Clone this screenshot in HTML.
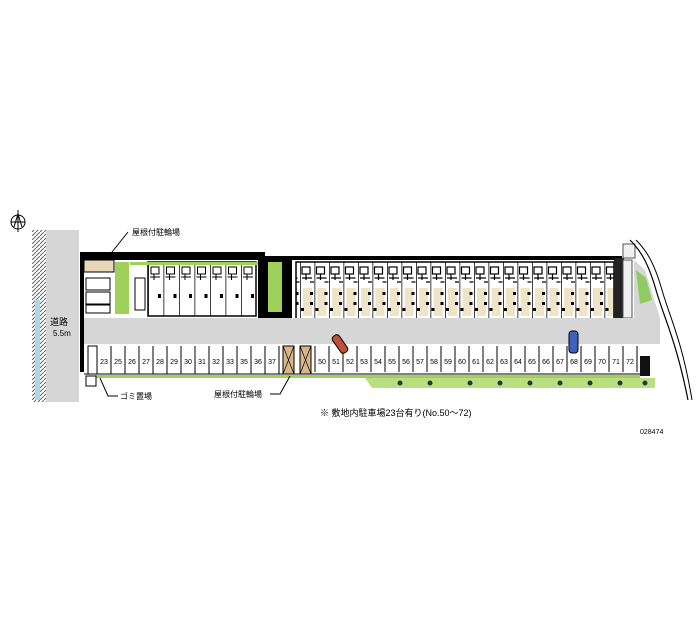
<!DOCTYPE html>
<html><head><meta charset="utf-8"><style>
html,body{margin:0;padding:0;background:#fff;width:700px;height:636px;overflow:hidden}
text{font-family:"Liberation Sans","Noto Sans CJK JP",sans-serif}
</style></head><body>
<svg width="700" height="636" viewBox="0 0 700 636" xmlns="http://www.w3.org/2000/svg">
<defs>
<pattern id="units" x="300" y="262" width="14.5" height="58" patternUnits="userSpaceOnUse">
<rect x="0" y="0" width="14.5" height="58" fill="#fff"/>
<rect x="3" y="26" width="9" height="28" fill="#efe3c8"/>
<line x1="0" y1="0" x2="0" y2="58" stroke="#000" stroke-width="1.5"/>
<rect x="2" y="5" width="8" height="7" fill="none" stroke="#000" stroke-width="1.2"/>
<path d="M2 16h10M6 12v6M10 20h4" stroke="#000" stroke-width="1.2"/>
<rect x="10" y="30" width="3" height="3" fill="#000"/>
<rect x="10" y="40" width="3" height="3" fill="#000"/>
<rect x="1" y="46" width="3" height="3" fill="#000"/>
</pattern>
<pattern id="units2" x="148" y="262" width="15.5" height="54" patternUnits="userSpaceOnUse">
<rect width="15.5" height="54" fill="#fff"/>
<line x1="0" y1="0" x2="0" y2="54" stroke="#000" stroke-width="1.5"/>
<rect x="3" y="5" width="8" height="7" fill="none" stroke="#000"/>
<path d="M2 15h10M6 12v6" stroke="#000"/>
<rect x="10" y="32" width="3" height="4" fill="#000"/>
</pattern>
<pattern id="hatch" width="4" height="4" patternUnits="userSpaceOnUse">
<rect width="4" height="4" fill="#fff"/><path d="M0 4L4 0" stroke="#666" stroke-width="1"/>
</pattern>
</defs>
<!-- north arrow -->
<circle cx="18" cy="222" r="7" fill="none" stroke="#000"/>
<path d="M18 210V232M11 222H25M14 227L18 214L22 227" stroke="#000" fill="none"/>
<!-- road / river -->
<rect x="32" y="230" width="10" height="172" fill="url(#hatch)"/>
<rect x="35" y="300" width="5" height="100" fill="#a8d8ea"/>
<rect x="42" y="230" width="4" height="172" fill="url(#hatch)"/>
<rect x="46" y="230" width="33" height="172" fill="#d6d6d6"/>
<text x="50" y="325" font-size="9">道路</text>
<text x="53" y="336" font-size="8">5.5m</text>
<!-- site -->
<rect x="80" y="252" width="185" height="8" fill="#000"/>
<rect x="80" y="252" width="4" height="120" fill="#000"/>
<rect x="84" y="260" width="30" height="12" fill="#e8d8b8" stroke="#000"/>
<rect x="86" y="278" width="24" height="12" fill="#fff" stroke="#000"/>
<rect x="86" y="292" width="24" height="12" fill="#fff" stroke="#000"/>
<rect x="86" y="305" width="24" height="8" fill="#fff" stroke="#000"/>
<rect x="115" y="262" width="14" height="52" fill="#9ed05a"/>
<rect x="135" y="278" width="10" height="32" fill="#fff" stroke="#000"/>
<rect x="148" y="262" width="108" height="54" fill="url(#units2)" stroke="#000" stroke-width="1.5"/>
<rect x="130" y="262" width="130" height="3" fill="#9ed05a"/>
<rect x="258" y="256" width="34" height="62" fill="#000"/>
<rect x="268" y="262" width="14" height="50" fill="#9ed05a"/>
<rect x="292" y="256" width="330" height="4" fill="#000"/>
<rect x="296" y="262" width="318" height="58" fill="url(#units)" stroke="#000" stroke-width="1.5"/>
<rect x="614" y="258" width="10" height="60" fill="#222"/>
<rect x="623" y="260" width="9" height="58" fill="#f0f0f0" stroke="#555"/>
<rect x="623" y="244" width="12" height="14" fill="#f0f0f0" stroke="#555"/>
<!-- drive -->
<rect x="84" y="318" width="574" height="26" fill="#d6d6d6"/>
<polygon points="634,260 645,270 660,318 660,344 634,344" fill="#d6d6d6"/>
<polygon points="636,270 646,278 652,300 640,304" fill="#8fcb60"/>
<path d="M630 240 C 640 250 648 262 656 290 S 676 340 688 400" fill="none" stroke="#000" stroke-width="1.2"/>
<path d="M636 240 C 646 250 654 262 662 290 S 682 340 692 400" fill="none" stroke="#000" stroke-width="1"/>
<!-- parking stalls -->
<rect x="84" y="344" width="570" height="30" fill="#fff"/>
<g stroke="#000" stroke-width="1" fill="none">
<path d="M88 346h9v28h-9z"/>
<path d="M97 346V374M111 346V374M125 346V374M139 346V374M153 346V374M167 346V374M181 346V374M195 346V374M209 346V374M223 346V374M237 346V374M251 346V374M265 346V374M279 346V374"/>
<path d="M315 346V372M329 346V372M343 346V372M357 346V372M371 346V372M385 346V372M399 346V372M413 346V372M427 346V372M441 346V372M455 346V372M469 346V372M483 346V372M497 346V372M511 346V372M525 346V372M539 346V372M553 346V372M567 346V372M581 346V372M595 346V372M609 346V372M623 346V372M637 346V372"/>
<path d="M84 374H640"/>
</g>
<rect x="283" y="346" width="11" height="28" fill="#d9b58a" stroke="#000"/>
<rect x="300" y="346" width="11" height="28" fill="#d9b58a" stroke="#000"/>
<path d="M283 346l11 28M294 346l-11 28M300 346l11 28M311 346l-11 28" stroke="#000" stroke-width=".7"/>
<rect x="640" y="356" width="10" height="20" fill="#111"/>
<g font-size="7" fill="#000" text-anchor="middle">
<text x="104" y="364">23</text><text x="118" y="364">25</text><text x="132" y="364">26</text><text x="146" y="364">27</text><text x="160" y="364">28</text><text x="174" y="364">29</text><text x="188" y="364">30</text><text x="202" y="364">31</text><text x="216" y="364">32</text><text x="230" y="364">33</text><text x="244" y="364">35</text><text x="258" y="364">36</text><text x="272" y="364">37</text>
<text x="322" y="364">50</text><text x="336" y="364">51</text><text x="350" y="364">52</text><text x="364" y="364">53</text><text x="378" y="364">54</text><text x="392" y="364">55</text><text x="406" y="364">56</text><text x="420" y="364">57</text><text x="434" y="364">58</text><text x="448" y="364">59</text><text x="462" y="364">60</text><text x="476" y="364">61</text><text x="490" y="364">62</text><text x="504" y="364">63</text><text x="518" y="364">64</text><text x="532" y="364">65</text><text x="546" y="364">66</text><text x="560" y="364">67</text><text x="574" y="364">68</text><text x="588" y="364">69</text><text x="602" y="364">70</text><text x="616" y="364">71</text><text x="630" y="364">72</text>
</g>
<!-- cars -->
<rect x="336" y="334" width="8" height="20" rx="3" fill="#c0503a" stroke="#000" transform="rotate(-35 340 344)"/>
<rect x="569" y="331" width="9" height="22" rx="3" fill="#4060c0" stroke="#000"/>
<!-- bottom green strip -->
<rect x="95" y="375" width="545" height="3" fill="#9ed05a"/>
<polygon points="365,378 655,378 655,388 372,388" fill="#b8e080"/>
<g fill="#333"><circle cx="400" cy="383" r="2.5"/><circle cx="430" cy="383" r="2.5"/><circle cx="470" cy="383" r="2.5"/><circle cx="500" cy="383" r="2.5"/><circle cx="530" cy="383" r="2.5"/><circle cx="560" cy="383" r="2.5"/><circle cx="590" cy="383" r="2.5"/><circle cx="620" cy="383" r="2.5"/><circle cx="645" cy="383" r="2.5"/></g>
<rect x="86" y="376" width="10" height="10" fill="#fff" stroke="#000"/>
<!-- labels -->
<path d="M128 232L112 252M100 378L108 396H118M290 376L280 394H270" stroke="#000" fill="none"/>
<text x="132" y="235" font-size="8">屋根付駐輪場</text>
<text x="120" y="399" font-size="8">ゴミ置場</text>
<text x="214" y="397" font-size="8">屋根付駐輪場</text>
<text x="320" y="416" font-size="9">※ 敷地内駐車場23台有り(No.50～72)</text>
<text x="640" y="434" font-size="7">028474</text>
</svg>
</body></html>
